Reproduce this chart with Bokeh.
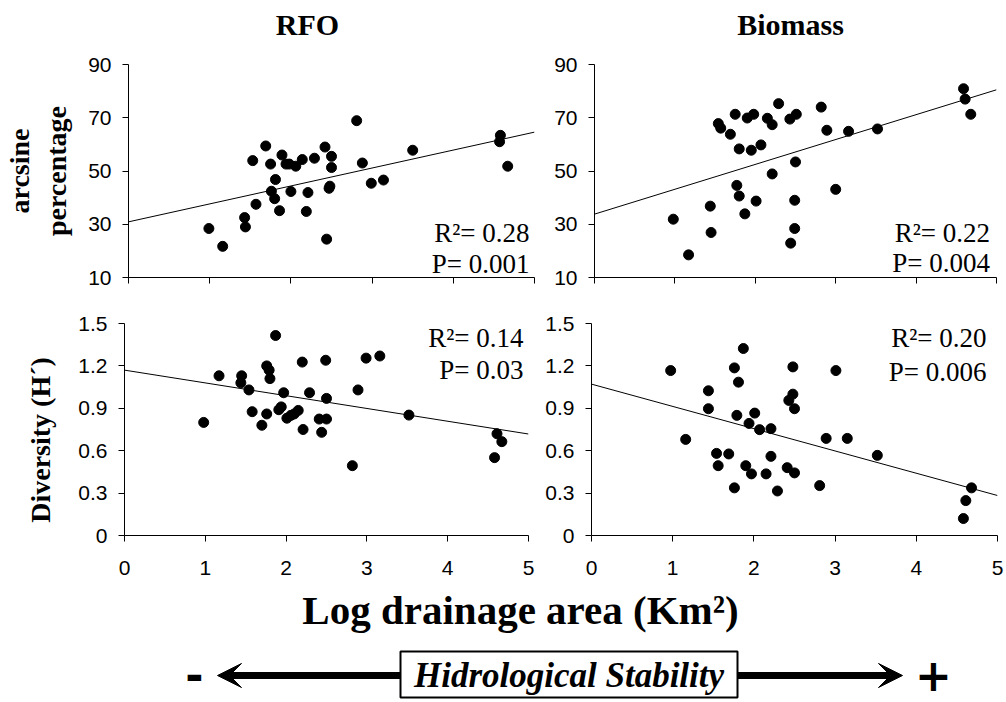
from bokeh.plotting import figure
from bokeh.models import Range1d, FixedTicker, Label, Arrow, VeeHead
from bokeh.layouts import column, row
from bokeh.embed import file_html
from bokeh.resources import INLINE

# ---------------- data ----------------
titles = ["RFO", "Biomass"]
y_label_top = "arcsine\npercentage"
y_label_bottom = "Diversity (H\u00b4)"
x_label = "Log drainage area (Km\u00b2)"
arrow_text = "Hidrological Stability"

x_ticks = [0, 1, 2, 3, 4, 5]
x_tick_labels = ["0", "1", "2", "3", "4", "5"]
top_ticks = [10, 30, 50, 70, 90]
top_tick_labels = ["10", "30", "50", "70", "90"]
bot_ticks = [0, 0.3, 0.6, 0.9, 1.2, 1.5]
bot_tick_labels = ["0", "0.3", "0.6", "0.9", "1.2", "1.5"]

# RFO - arcsine percentage
rfo_arc_x = [0.99, 1.16, 1.43, 1.44, 1.53, 1.57, 1.69, 1.75, 1.76, 1.80, 1.81, 1.86,
             1.89, 1.94, 1.98, 2.00, 2.06, 2.14, 2.21, 2.19, 2.29, 2.42, 2.44, 2.50,
             2.50, 2.47, 2.48, 2.81, 2.88, 2.99, 3.14, 3.50, 4.58, 4.57, 4.67]
rfo_arc_y = [28.4, 21.7, 32.5, 29.0, 53.9, 37.5, 59.4, 52.6, 42.4, 39.6, 46.8, 35.1,
             56.0, 52.6, 52.6, 42.3, 51.8, 54.3, 41.9, 34.8, 54.8, 59.0, 24.4, 55.5,
             51.3, 43.5, 44.3, 68.9, 53.0, 45.4, 46.6, 57.8, 63.4, 61.0, 51.8]
rfo_arc_fit = [30.9, 64.6]
rfo_arc_stats = ["R\u00b2= 0.28", "P= 0.001"]

# Biomass - arcsine percentage
bio_arc_x = [0.98, 1.17, 1.44, 1.45, 1.54, 1.57, 1.69, 1.75, 1.77, 1.80, 1.80, 1.87,
             1.90, 1.95, 1.98, 2.01, 2.07, 2.15, 2.21, 2.21, 2.29, 2.43, 2.44, 2.49,
             2.49, 2.50, 2.51, 2.82, 2.89, 3.00, 3.16, 3.52, 4.59, 4.61, 4.68]
bio_arc_y = [31.9, 18.5, 36.8, 26.9, 67.8, 66.1, 63.8, 71.3, 44.6, 40.6, 58.3, 33.9,
             69.9, 57.8, 71.3, 38.7, 59.8, 69.8, 67.4, 48.9, 75.3, 69.5, 22.9, 28.4,
             39.0, 53.4, 71.3, 74.0, 65.3, 43.1, 64.9, 65.8, 80.9, 77.0, 71.3]
bio_arc_fit = [33.8, 80.5]
bio_arc_stats = ["R\u00b2= 0.22", "P= 0.004"]

# RFO - diversity
rfo_div_x = [0.98, 1.17, 1.45, 1.44, 1.54, 1.58, 1.70, 1.76, 1.79, 1.80, 1.76, 1.87,
             1.91, 1.94, 1.97, 2.01, 2.06, 2.10, 2.15, 2.20, 2.21, 2.29, 2.41, 2.44,
             2.49, 2.50, 2.50, 2.82, 2.89, 2.99, 3.16, 3.52, 4.61, 4.58, 4.67]
rfo_div_y = [0.80, 1.13, 1.13, 1.08, 1.03, 0.876, 0.78, 1.20, 1.17, 1.11, 0.86, 1.415,
             0.89, 0.91, 1.01, 0.83, 0.85, 0.86, 0.885, 1.227, 0.75, 1.01, 0.824, 0.73,
             1.24, 0.97, 0.824, 0.494, 1.03, 1.255, 1.27, 0.852, 0.72, 0.551, 0.664]
rfo_div_fit = [1.17, 0.718]
rfo_div_stats = ["R\u00b2= 0.14", "P= 0.03"]

# Biomass - diversity
bio_div_x = [0.975, 1.16, 1.44, 1.44, 1.54, 1.56, 1.69, 1.76, 1.81, 1.79, 1.76, 1.87,
             1.90, 1.94, 1.97, 2.01, 2.07, 2.15, 2.21, 2.21, 2.29, 2.41, 2.43, 2.48,
             2.48, 2.50, 2.50, 2.81, 2.89, 3.01, 3.15, 3.52, 4.68, 4.61, 4.58]
bio_div_y = [1.167, 0.68, 1.024, 0.897, 0.581, 0.494, 0.577, 1.186, 1.085, 0.85, 0.337,
             1.323, 0.494, 0.793, 0.436, 0.866, 0.749, 0.436, 0.756, 0.56, 0.315, 0.48,
             0.956, 1.193, 1.0, 0.897, 0.443, 0.353, 0.687, 1.167, 0.687, 0.567, 0.337,
             0.247, 0.12]
bio_div_fit = [1.071, 0.283]
bio_div_stats = ["R\u00b2= 0.20", "P= 0.006"]

fit_x = [0, 5]

SERIF = "Liberation Serif"
SANS = "Liberation Sans"


def bare(width, height, y0, y1):
    f = figure(width=width, height=height, x_range=Range1d(0, width),
               y_range=Range1d(y0, y1), output_backend="svg", toolbar_location=None,
               title=None, min_border_left=0, min_border_right=0, min_border_top=0,
               min_border_bottom=0)
    f.axis.visible = False
    f.grid.visible = False
    f.outline_line_color = None
    return f


def panel(xs, ys, fit_y, yr, yticks, ylabels, show_xlabels, fw, fh, bl, br, bt, bb):
    p = figure(frame_width=fw, frame_height=fh,
               x_range=Range1d(0, 5), y_range=Range1d(yr[0], yr[1]),
               output_backend="svg", toolbar_location=None,
               min_border_left=bl, min_border_right=br,
               min_border_top=bt, min_border_bottom=bb)
    p.outline_line_color = None
    p.grid.visible = False
    p.axis.axis_line_color = "black"
    p.axis.axis_line_width = 1
    p.axis.major_tick_line_color = "black"
    p.axis.minor_tick_line_color = None
    p.axis.major_tick_in = 0
    p.axis.major_tick_out = 6
    p.axis.major_label_text_font = SANS
    p.axis.major_label_text_font_size = "21px"
    p.axis.major_label_text_color = "black"
    p.xaxis.ticker = FixedTicker(ticks=x_ticks)
    p.yaxis.ticker = FixedTicker(ticks=yticks)
    p.yaxis.major_label_overrides = {t: l for t, l in zip(yticks, ylabels)}
    p.yaxis.major_label_standoff = 11
    if show_xlabels:
        p.xaxis.major_label_overrides = {t: l for t, l in zip(x_ticks, x_tick_labels)}
        p.xaxis.major_label_standoff = 19
    else:
        p.xaxis.major_label_overrides = {t: "" for t in x_ticks}
        p.xaxis.major_label_standoff = 0
    p.line(fit_x, fit_y, line_color="black", line_width=1)
    p.scatter(xs, ys, size=10, fill_color="black", line_color="black")
    return p


def stats(p, texts, anchor_y, offsets, x_off):
    for t, off in zip(texts, offsets):
        p.add_layout(Label(x=5, y=anchor_y, x_offset=x_off, y_offset=off, text=t,
                           text_align="right", text_baseline="alphabetic",
                           text_font=SERIF, text_font_size="27px", text_color="black"))


def set_ylabel(p, text, standoff):
    p.yaxis.axis_label = text
    p.yaxis.axis_label_text_font = SERIF
    p.yaxis.axis_label_text_font_style = "bold"
    p.yaxis.axis_label_text_font_size = "28px"
    p.yaxis.axis_label_text_color = "black"
    p.yaxis.axis_label_standoff = standoff


# header with column titles (page pixel coordinates, y from 0 down to 50)
hd = bare(1004, 50, 50, 0)
for txt, cx in zip(titles, [307, 790]):
    hd.add_layout(Label(x=cx, y=24, text=txt, text_align="center",
                        text_baseline="alphabetic", text_font=SERIF,
                        text_font_style="bold", text_font_size="30px", text_color="black"))

tl = panel(rfo_arc_x, rfo_arc_y, rfo_arc_fit, (10, 90), top_ticks, top_tick_labels,
           False, 406, 213, 122, 10, 14, 30)
tr = panel(bio_arc_x, bio_arc_y, bio_arc_fit, (10, 90), top_ticks, top_tick_labels,
           False, 402, 213, 50, 10, 14, 30)
bl = panel(rfo_div_x, rfo_div_y, rfo_div_fit, (0, 1.5), bot_ticks, bot_tick_labels,
           True, 404, 212, 124, 10, 16, 50)
br = panel(bio_div_x, bio_div_y, bio_div_fit, (0, 1.5), bot_ticks, bot_tick_labels,
           True, 406, 212, 53, 7, 16, 50)

stats(tl, rfo_arc_stats, 10, [44.5, 13.5], -5)
stats(tr, bio_arc_stats, 10, [44.2, 14.5], -6.5)
stats(bl, rfo_div_stats, 1.5, [-14.7, -46.4], -5)
stats(br, bio_div_stats, 1.5, [-14.7, -48.7], -11)

set_ylabel(tl, y_label_top, 13)
set_ylabel(bl, y_label_bottom + "\u00a0\u00a0\u00a0", 19)

# footer: x label and stability arrow (page pixel coordinates, y from 585 down to 700)
ft = bare(1004, 115, 700, 585)
ft.add_layout(Label(x=520, y=609, text=x_label, text_align="center",
                    text_baseline="alphabetic", text_font=SERIF, text_font_style="bold",
                    text_font_size="41px", text_color="black"))
ft.quad(left=[400], right=[737], top=[651], bottom=[697], fill_color="white",
        line_color="black", line_width=2)
ft.add_layout(Label(x=568.5, y=675, text=arrow_text, text_align="center",
                    text_baseline="middle", text_font=SERIF, text_font_style="bold italic",
                    text_font_size="35px", text_color="black"))
ft.add_layout(Arrow(end=VeeHead(size=24, fill_color="black", line_color="black"),
                    x_start=400, y_start=675, x_end=217, y_end=675,
                    line_color="black", line_width=7))
ft.add_layout(Arrow(end=VeeHead(size=24, fill_color="black", line_color="black"),
                    x_start=737, y_start=675, x_end=902, y_end=675,
                    line_color="black", line_width=7))
ft.add_layout(Label(x=194, y=674, text="-", text_align="center", text_baseline="middle",
                    text_font="DejaVu Sans", text_font_style="bold",
                    text_font_size="44px", text_color="black"))
ft.add_layout(Label(x=933, y=674, text="+", text_align="center", text_baseline="middle",
                    text_font="DejaVu Sans", text_font_style="bold",
                    text_font_size="44px", text_color="black"))

layout = column(hd, row(tl, tr), row(bl, br), ft)
open("out.html", "w").write(file_html(layout, INLINE))
